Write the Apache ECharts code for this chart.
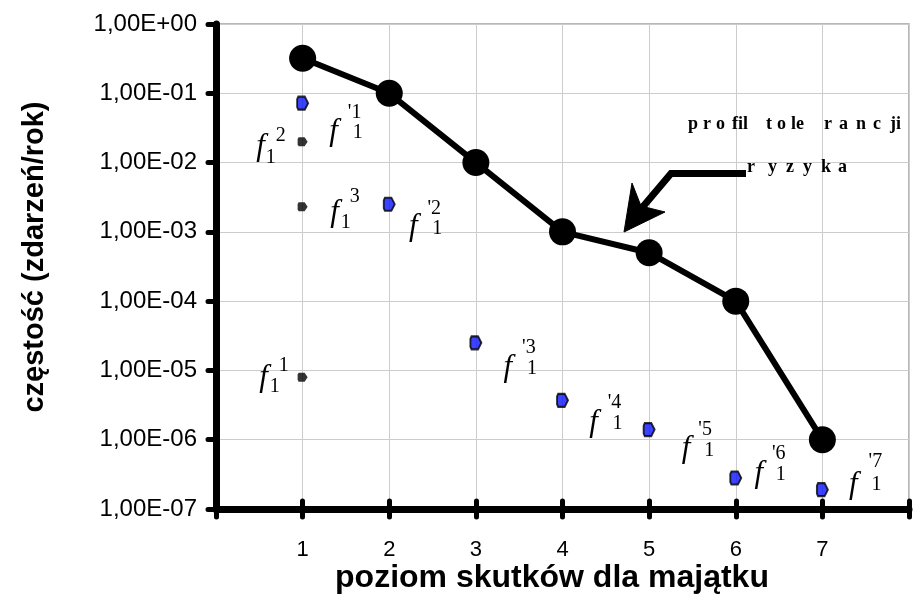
<!DOCTYPE html>
<html><head><meta charset="utf-8">
<script src="https://cdn.jsdelivr.net/npm/echarts@6/dist/echarts.min.js"></script>
<style>html,body{margin:0;padding:0;background:#fff}#c{width:919px;height:596px}</style>
</head><body><div id="c"></div>
<script>
// ---- data ----
const levels = [1, 2, 3, 4, 5, 6, 7];
const profileValues = [0.32, 0.1, 0.01, 0.001, 0.0005, 0.0001, 0.000001];      // profil tolerancji ryzyka
const primeValues = [0.072, 0.0025, 0.000025, 0.0000037, 0.0000014, 0.00000028, 0.00000019]; // f'1^k
const level1Values = [0.000008, 0.02, 0.0023];                                   // f1^1, f1^2, f1^3 (level 1)
const xTickLabels = ['', '1', '2', '3', '4', '5', '6', '7', ''];
const yTickLabels = ['1,00E-07', '1,00E-06', '1,00E-05', '1,00E-04', '1,00E-03', '1,00E-02', '1,00E-01', '1,00E+00'];

const symPath = 'path://M1,0 L7,0 L10,5 L7,10 L1,10 L0,8 L0,2 Z';

const chart = echarts.init(document.getElementById('c'));
const tickStyle = {color: '#000', width: 5, cap: 'round'};
chart.setOption({
  animation: false,
  backgroundColor: '#fff',
  grid: {left: 216, right: 10, top: 24, bottom: 87, show: true, borderColor: '#a0a0a0', borderWidth: 1.5},
  xAxis: [{
    type: 'value', min: 0, max: 8, interval: 1,
    axisLine: {show: true, onZero: false, lineStyle: {color: '#000', width: 7}},
    axisTick: {show: true, length: 8, lineStyle: tickStyle},
    axisLabel: {margin: 30, color: '#000', fontSize: 22, fontFamily: 'Liberation Sans, Arial',
      formatter: v => xTickLabels[Math.round(v)] || ''},
    splitLine: {show: true, lineStyle: {color: '#cccccc', width: 1}}
  }, {
    type: 'value', min: 0, max: 8, interval: 1, position: 'bottom',
    axisLine: {show: false, onZero: false},
    axisTick: {show: true, inside: true, length: 8, lineStyle: tickStyle},
    axisLabel: {show: false}, splitLine: {show: false}
  }],
  yAxis: {
    type: 'log', logBase: 10, min: 1e-7, max: 1, splitNumber: 7,
    axisLine: {show: true, lineStyle: {color: '#000', width: 7}},
    axisTick: {show: true, length: 8, lineStyle: tickStyle},
    minorTick: {show: false},
    axisLabel: {margin: 19, color: '#000', fontSize: 24, fontFamily: 'Liberation Sans, Arial',
      formatter: v => yTickLabels[Math.round(Math.log10(v)) + 7] || ''},
    splitLine: {show: true, lineStyle: {color: '#cccccc', width: 1}}
  },
  series: [{
    type: 'scatter', name: 'f1', xAxisIndex: 0,
    data: level1Values.map(v => [1, v]),
    symbol: symPath, symbolSize: [10, 9],
    itemStyle: {color: '#000'}, z: 3
  }, {
    type: 'scatter', name: "f'1", xAxisIndex: 0,
    data: levels.map((x, i) => [x, primeValues[i]]),
    symbol: symPath, symbolSize: [11, 13],
    itemStyle: {color: '#0a14ff', borderColor: '#000', borderWidth: 2}, z: 3
  }, {
    type: 'line', name: 'profil', xAxisIndex: 0,
    data: levels.map((x, i) => [x, profileValues[i]]),
    symbol: 'circle', symbolSize: 27, showSymbol: true,
    lineStyle: {color: '#000', width: 6}, itemStyle: {color: '#000'}, z: 4
  }]
});

// ---- annotations anchored to data points ----
const px = p => chart.convertToPixel({xAxisIndex: 0, yAxisIndex: 0}, p);
const notes = [
  {pt: [1, level1Values[1]], f: [-42, 5],  sup: '2',  so: [20, -11], sub: '1', bo: [10, 11]},
  {pt: [1, level1Values[2]], f: [32, 6],   sup: '3',  so: [20, -16], sub: '1', bo: [11, 10]},
  {pt: [1, level1Values[0]], f: [-39, 1],  sup: '1',  so: [20, -12], sub: '1', bo: [11, 9]},
  {pt: [1, primeValues[0]], f: [31, 29],   sup: "'1", so: [21, -19], sub: '1', bo: [24, 1]},
  {pt: [2, primeValues[1]], f: [24, 23],   sup: "'2", so: [21, -19], sub: '1', bo: [24, 1]},
  {pt: [3, primeValues[2]], f: [32, 25],   sup: "'3", so: [21, -20], sub: '1', bo: [24, 1]},
  {pt: [4, primeValues[3]], f: [31, 22],   sup: "'4", so: [21, -20], sub: '1', bo: [24, 1]},
  {pt: [5, primeValues[4]], f: [37, 19],   sup: "'5", so: [19, -19], sub: '1', bo: [23, 2]},
  {pt: [6, primeValues[5]], f: [23, -4],   sup: "'6", so: [20, -20], sub: '1', bo: [22, 1]},
  {pt: [7, primeValues[6]], f: [31, -5],   sup: "'7", so: [22, -23], sub: '1', bo: [23, 0]}
];
const txt = (x, y, text, font, align, va) => ({
  type: 'text', x, y, z: 20, silent: true,
  style: {text, font, fill: '#000', textAlign: align || 'center', align: align || 'center',
          textVerticalAlign: va || 'middle', verticalAlign: va || 'middle'}
});
const g = [];
const fFont = 'italic 31px "Liberation Serif"';
const sFont = '20px "Liberation Serif"';
notes.forEach(n => {
  const p = px(n.pt);
  const fx = p[0] + n.f[0], fy = p[1] + n.f[1];
  g.push(txt(fx, fy, 'f', fFont));
  g.push(txt(fx + n.so[0], fy + n.so[1], n.sup, sFont));
  g.push(txt(fx + n.bo[0], fy + n.bo[1], n.sub, sFont));
});

// "profil tolerancji ryzyka" caption
const capFont = 'bold 18px "Liberation Serif"';
const profTokens = [['p', 688], ['r', 703], ['o', 716], ['fil', 732], ['t', 766], ['o', 777], ['le', 791], ['r', 824], ['a', 839], ['n', 856], ['c', 873], ['ji', 890]];
profTokens.forEach(t => g.push(txt(t[1], 124, t[0], capFont, 'left')));
const ryzTokens = [['r', 747], ['y', 768], ['z', 786], ['y', 803], ['k', 821], ['a', 838]];
ryzTokens.forEach(t => g.push(txt(t[1], 167, t[0], capFont, 'left')));

// arrow
g.push({type: 'polyline', z: 20, silent: true, shape: {points: [[746, 173.5], [671, 173.5], [641, 209]]},
  style: {stroke: '#000', lineWidth: 7, fill: null, lineJoin: 'miter'}});
g.push({type: 'polygon', z: 20, silent: true, shape: {points: [[624, 232], [632, 183], [641, 206], [665, 212]]},
  style: {fill: '#000', stroke: '#000', lineWidth: 1}});

// axis titles
g.push({type: 'text', z: 20, silent: true, x: 35, y: 257, rotation: Math.PI / 2,
  style: {text: 'częstość (zdarzeń/rok)', font: 'bold 29px "Liberation Sans", Arial', fill: '#000',
          textAlign: 'center', align: 'center', textVerticalAlign: 'middle', verticalAlign: 'middle'}});
g.push(txt(552, 578, 'poziom skutków dla majątku', 'bold 32px "Liberation Sans", Arial'));

chart.setOption({graphic: g});
</script>
</body></html>
